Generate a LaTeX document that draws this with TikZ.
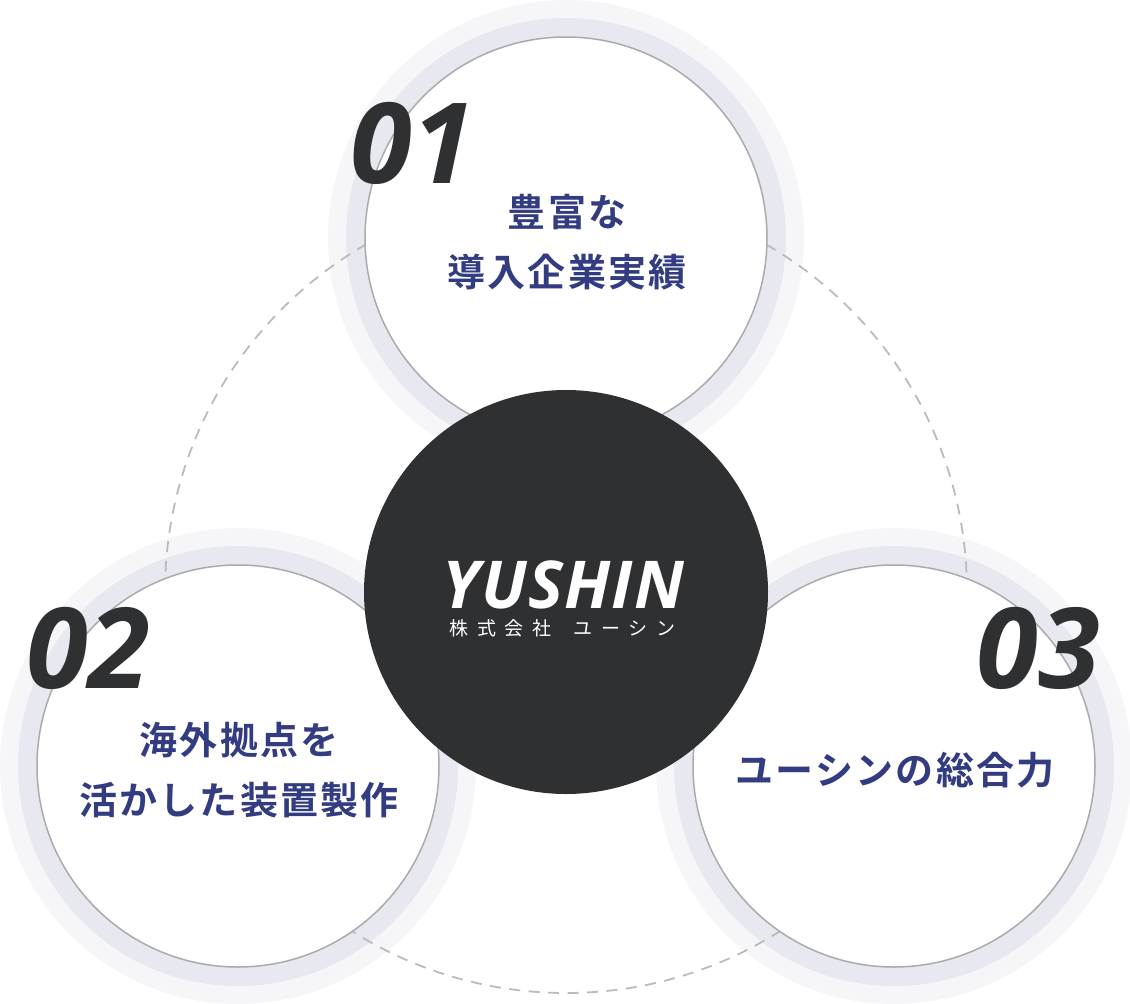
\documentclass[tikz,border=0pt]{standalone}
\usepackage{fontspec}
\setmainfont{Open Sans}
\newfontfamily\logofont[LetterSpace=2]{Open Sans}
\newfontfamily\jpbold[LetterSpace=6]{Noto Sans CJK JP Bold}
\newfontfamily\jpsmall[LetterSpace=46]{Noto Sans CJK JP}
\definecolor{ink}{HTML}{2F3032}
\definecolor{navy}{HTML}{333C80}
\definecolor{ringout}{HTML}{F6F6F9}
\definecolor{ringmid}{HTML}{E7E8F0}
\definecolor{ringline}{HTML}{ABABAD}
\definecolor{dashline}{HTML}{BBBBBE}
\tikzstyle{disc}=[circle,inner sep=0,outer sep=0]
\tikzstyle{outer}=[disc,minimum size=476pt,fill=ringout]
\tikzstyle{middle}=[disc,minimum size=440pt,fill=ringmid]
\tikzstyle{inner}=[disc,minimum size=402pt,fill=white,draw=ringline,line width=1.5pt]
\tikzstyle{orbit}=[disc,minimum size=802pt,draw=dashline,line width=1.8pt,dash pattern=on 11pt off 8.5pt]
\tikzstyle{core}=[disc,minimum size=404pt,fill=ink]
\tikzstyle{num}=[inner sep=0,text=ink,font=\fontsize{112}{112}\selectfont\bfseries\itshape]
\tikzstyle{lab}=[inner sep=0,text=navy,align=center,font=\fontsize{38}{60}\selectfont\jpbold]

\begin{document}
\begin{tikzpicture}[x=1pt,y=-1pt]
\useasboundingbox (0,0) rectangle (1130,1004);

\draw (566,238) node (outerA) [outer] {};
\draw (238,766) node (outerB) [outer] {};
\draw (894,766) node (outerC) [outer] {};

\draw (566,238) node (middleA) [middle] {};
\draw (238,766) node (middleB) [middle] {};
\draw (894,766) node (middleC) [middle] {};

\draw (566,592) node (track) [orbit] {};

\draw (566,238) node (innerA) [inner] {};
\draw (238,766) node (innerB) [inner] {};
\draw (894,766) node (innerC) [inner] {};

\draw (566,592) node (centre) [core] {};

\draw (563.5,584.5) node (logo) [inner sep=0,text=white,font=\fontsize{66}{66}\selectfont\logofont\bfseries\itshape] {YUSHIN};
\draw (562.5,628) node (company) [inner sep=0,text=white,font=\fontsize{19}{19}\selectfont\jpsmall] {株式会社\hspace{9pt} ユーシン};

\draw (412,143) node (numA) [num] {01};
\draw (88,648) node (numB) [num] {02};
\draw (1038,648) node (numC) [num] {03};

\draw (567,242) node (labA) [lab] {豊富な\\導入企業実績};
\draw (239,770) node (labB) [lab] {海外拠点を\\活かした装置製作};
\draw (895,770) node (labC) [lab] {ユーシンの総合力};

\end{tikzpicture}
\end{document}
